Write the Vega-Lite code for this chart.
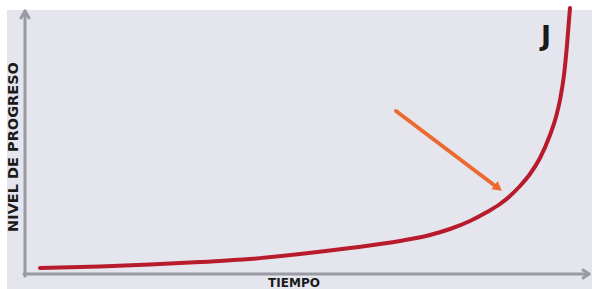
{
  "$schema": "https://vega.github.io/schema/vega-lite/v6.json",
  "width": 592,
  "height": 289,
  "autosize": {"type": "none"},
  "padding": 0,
  "background": "#ffffff",
  "view": {"stroke": null},
  "datasets": {
    "bg": [{"x1": 7, "x2": 592, "y1": 10, "y2": 289}],
    "axes": [
      {"id": "y", "x1": 25, "y1": 276, "x2": 25, "y2": 11},
      {"id": "ya", "x1": 21, "y1": 18, "x2": 25, "y2": 11},
      {"id": "yb", "x1": 29, "y1": 18, "x2": 25, "y2": 11},
      {"id": "x", "x1": 24, "y1": 274, "x2": 589, "y2": 274},
      {"id": "xa", "x1": 583, "y1": 270, "x2": 589, "y2": 274},
      {"id": "xb", "x1": 583, "y1": 278, "x2": 589, "y2": 274}
    ],
    "curve": [
      {"t": 40, "v": 268}, {"t": 100, "v": 266.5}, {"t": 150, "v": 264.5}, {"t": 200, "v": 262},
      {"t": 250, "v": 259}, {"t": 300, "v": 254}, {"t": 350, "v": 248}, {"t": 400, "v": 241},
      {"t": 430, "v": 235}, {"t": 450, "v": 229}, {"t": 470, "v": 221}, {"t": 487, "v": 212},
      {"t": 500, "v": 204}, {"t": 510, "v": 196}, {"t": 520, "v": 186}, {"t": 530, "v": 174},
      {"t": 540, "v": 158}, {"t": 550, "v": 135}, {"t": 556, "v": 117}, {"t": 560, "v": 100},
      {"t": 564, "v": 75}, {"t": 567, "v": 45}, {"t": 569, "v": 20}, {"t": 570, "v": 8}
    ],
    "arrow": [
      {"x1": 396, "y1": 111, "x2": 494, "y2": 185}
    ],
    "head": [
      {"hx": 497, "hy": 187}
    ],
    "labels": [
      {"lx": 546, "ly": 37, "txt": "J", "kind": "big"},
      {"lx": 294, "ly": 283, "txt": "TIEMPO", "kind": "x"}
    ],
    "ylabel": [
      {"lx": 14, "ly": 147, "txt": "NIVEL DE PROGRESO"}
    ]
  },
  "layer": [
    {
      "data": {"name": "bg"},
      "mark": {"type": "rect", "color": "#e5e5ee"},
      "encoding": {
        "x": {"field": "x1", "type": "quantitative", "scale": {"domain": [0, 592], "nice": false, "zero": false}, "axis": null},
        "x2": {"field": "x2"},
        "y": {"field": "y1", "type": "quantitative", "scale": {"domain": [289, 0], "nice": false, "zero": false}, "axis": null},
        "y2": {"field": "y2"}
      }
    },
    {
      "data": {"name": "axes"},
      "mark": {"type": "rule", "color": "#9a9aa2", "strokeWidth": 3, "strokeCap": "round"},
      "encoding": {
        "x": {"field": "x1", "type": "quantitative"},
        "x2": {"field": "x2"},
        "y": {"field": "y1", "type": "quantitative"},
        "y2": {"field": "y2"}
      }
    },
    {
      "data": {"name": "curve"},
      "mark": {"type": "line", "color": "#b81c2c", "strokeWidth": 4, "interpolate": "monotone", "strokeCap": "round"},
      "encoding": {
        "x": {"field": "t", "type": "quantitative"},
        "y": {"field": "v", "type": "quantitative"}
      }
    },
    {
      "data": {"name": "arrow"},
      "mark": {"type": "rule", "color": "#ec6a30", "strokeWidth": 4, "strokeCap": "round"},
      "encoding": {
        "x": {"field": "x1", "type": "quantitative"},
        "x2": {"field": "x2"},
        "y": {"field": "y1", "type": "quantitative"},
        "y2": {"field": "y2"}
      }
    },
    {
      "data": {"name": "head"},
      "mark": {"type": "point", "shape": "triangle", "filled": true, "color": "#ec6a30", "size": 110, "angle": 127, "opacity": 1},
      "encoding": {
        "x": {"field": "hx", "type": "quantitative"},
        "y": {"field": "hy", "type": "quantitative"}
      }
    },
    {
      "data": {"name": "labels"},
      "mark": {"type": "text", "font": "DejaVu Sans", "fontWeight": "bold", "color": "#1a1a1a", "baseline": "middle", "align": "center"},
      "encoding": {
        "x": {"field": "lx", "type": "quantitative"},
        "y": {"field": "ly", "type": "quantitative"},
        "text": {"field": "txt"},
        "size": {"condition": {"test": "datum.kind === 'big'", "value": 27}, "value": 12}
      }
    },
    {
      "data": {"name": "ylabel"},
      "mark": {"type": "text", "font": "DejaVu Sans", "fontWeight": "bold", "color": "#1a1a1a", "baseline": "middle", "align": "center", "angle": 270, "fontSize": 14.5},
      "encoding": {
        "x": {"field": "lx", "type": "quantitative"},
        "y": {"field": "ly", "type": "quantitative"},
        "text": {"field": "txt"}
      }
    }
  ]
}
